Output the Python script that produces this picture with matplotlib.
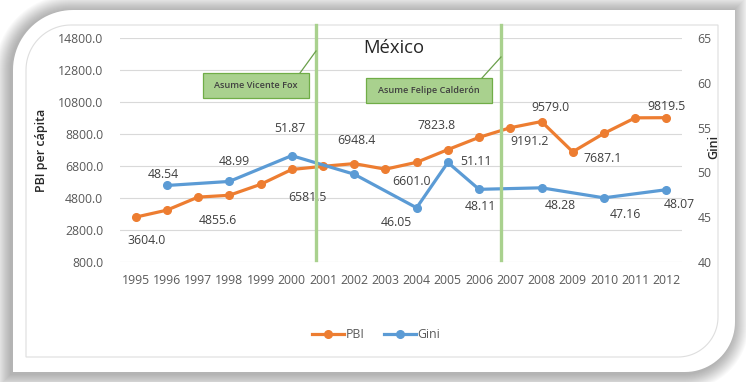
import numpy as np
import matplotlib
matplotlib.use("Agg")
import matplotlib.pyplot as plt
from matplotlib.patches import Polygon, Rectangle
from matplotlib.lines import Line2D

# data
years = list(range(1995, 2013))
pbi = [3604.0, 4040, 4855.6, 4970, 5650, 6581.5, 6780, 6948.4, 6601.0,
       7030, 7823.8, 8590, 9191.2, 9579.0, 7687.1, 8840, 9810, 9819.5]
gini_years = [1996, 1998, 2000, 2002, 2004, 2005, 2006, 2008, 2010, 2012]
gini = [48.54, 48.99, 51.87, 49.8, 46.05, 51.11, 48.11, 48.28, 47.16, 48.07]
pbi_labelled = [1995, 1997, 2000, 2002, 2003, 2005, 2007, 2008, 2009, 2012]
gini_labelled = [1996, 1998, 2000, 2004, 2005, 2006, 2008, 2010, 2012]
events = ["Asume Vicente Fox", "Asume Felipe Calderón"]
event_x = [2000.77, 2006.71]

# label offsets in pixels (x right, y up)
pbi_off = {1995: (11, -23), 1997: (20, -23), 2000: (16, -28), 2002: (2, 23),
           2003: (26, -12), 2005: (-11, 24), 2007: (19, -14), 2008: (9, 14),
           2009: (30, -7), 2012: (0, 11)}
gini_off = {1996: (-4, 11), 1998: (5, 20), 2000: (-2, 27), 2004: (-20, -15),
            2005: (28, 1), 2006: (1, -17), 2008: (19, -18), 2010: (21, -17),
            2012: (13, -15)}

ORANGE = "#ed7d31"
BLUE = "#5b9bd5"
GREEN = "#a9d18e"
TXT = "#595959"
W, H = 746, 382

plt.rcParams['font.family'] = ['Open Sans', 'DejaVu Sans']
fig = plt.figure(figsize=(W / 100, H / 100), dpi=100)
fig.patch.set_facecolor("white")


def card(l, t, r, b, r1, r2):
    pts = [(r, t), (r, b - r2)]
    for th in np.linspace(0, np.pi / 2, 24):
        pts.append((r - r2 + r2 * np.cos(th), b - r2 + r2 * np.sin(th)))
    pts += [(l, b), (l, t + r1)]
    for th in np.linspace(np.pi, 1.5 * np.pi, 24):
        pts.append((l + r1 + r1 * np.cos(th), t + r1 + r1 * np.sin(th)))
    return pts


# background card with soft shadow (pixel coords, y down)
bg = fig.add_axes([0, 0, 1, 1], zorder=-5)
bg.set_xlim(0, W)
bg.set_ylim(H, 0)
bg.axis("off")
for i in range(16, 0, -1):
    bg.add_patch(Polygon(card(13 - i - 2, 10 - i + 1, 735 + i - 2, 372 + i + 2, 60 + i, 50 + i),
                         closed=True, facecolor="black", edgecolor="none", alpha=0.018))
bg.add_patch(Polygon(card(13, 10, 735, 372, 60, 50), closed=True,
                     facecolor="white", edgecolor="none"))
bg.add_patch(Polygon(card(26, 25, 718, 357, 45, 40), closed=True,
                     facecolor="none", edgecolor="#dedede", lw=0.8))

# chart
ax = fig.add_axes([120 / W, 1 - 262 / H, 562 / W, 224 / H])
ax.patch.set_alpha(0)
ax2 = ax.twinx()
ax2.patch.set_alpha(0)

ax.set_xlim(1994.5, 2012.5)
ax.set_ylim(800, 14800)
ax.set_yticks(np.arange(800, 14801, 2000))
ax.set_yticklabels([f"{v:.1f}" for v in np.arange(800, 14801, 2000)])
ax.set_xticks(years)
ax2.set_ylim(40, 65)
ax2.set_yticks(range(40, 66, 5))
ax.grid(axis="y", color="#d9d9d9", lw=0.8)
ax.set_axisbelow(True)
for a in (ax, ax2):
    for s in a.spines.values():
        s.set_visible(False)
    a.tick_params(length=0, labelsize=8.8, labelcolor=TXT)
ax.tick_params(axis="y", pad=12)
ax.tick_params(axis="x", pad=9)
ax2.tick_params(axis="y", pad=11)

ax.plot(years, pbi, color=ORANGE, lw=2.3, marker="o", ms=5.5, zorder=3)
ax2.plot(gini_years, gini, color=BLUE, lw=2.3, marker="o", ms=5.5, zorder=3)

for yr in pbi_labelled:
    v = pbi[years.index(yr)]
    ax.annotate(f"{v:.1f}", (yr, v), xytext=pbi_off[yr], textcoords="offset pixels",
                ha="center", va="center", fontsize=8.8, color="#404040")
for yr in gini_labelled:
    v = gini[gini_years.index(yr)]
    ax2.annotate(f"{v:.2f}", (yr, v), xytext=gini_off[yr], textcoords="offset pixels",
                 ha="center", va="center", fontsize=8.8, color="#404040")

# event lines
for x in event_x:
    ax2.plot([x, x], [0.008, 1.058], transform=ax2.get_xaxis_transform(),
             color=GREEN, lw=2.4, clip_on=False, zorder=10)

ax.set_ylabel("PBI per cápita", fontsize=9, color="#262626", fontweight="semibold")
ax.yaxis.set_label_coords(-(120 - 48) / 562, 0.5)
ax2.set_ylabel("Gini", fontsize=9, color="#262626", rotation=90, fontweight="semibold")
ax2.yaxis.set_label_coords((707 - 120) / 562, (262 - 147) / 224)

# overlay for annotation boxes and title
ov = fig.add_axes([0, 0, 1, 1], zorder=10)
ov.set_xlim(0, W)
ov.set_ylim(H, 0)
ov.axis("off")
ov.patch.set_alpha(0)
ov.text(363, 48, "México", fontsize=13.3, color="#262626", va="center", ha="left")
boxes = [(203, 73, 106, 25, (300, 73), (316, 51)),
         (366, 78, 126, 25, (482, 78), (501, 57))]
for name, (bx, by, bw, bh, p0, p1) in zip(events, boxes):
    ov.plot([p0[0], p1[0]], [p0[1], p1[1]], color="#6a9f4a", lw=0.9)
    ov.add_patch(Rectangle((bx, by), bw, bh, facecolor=GREEN, edgecolor="#70ad47", lw=0.9))
    ov.text(bx + bw / 2, by + bh / 2, name, fontsize=6.6, color="#404040",
            ha="center", va="center", fontweight="semibold")

handles = [Line2D([], [], color=ORANGE, lw=2.3, marker="o", ms=5.5),
           Line2D([], [], color=BLUE, lw=2.3, marker="o", ms=5.5)]
fig.legend(handles, ["PBI", "Gini"], loc="center", bbox_to_anchor=(376 / W, 1 - 335 / H),
           ncol=2, frameon=False, fontsize=8.8, labelcolor=TXT, handlelength=2.6,
           handletextpad=0.1, columnspacing=1.6)

fig.savefig("out.png", dpi=100)
